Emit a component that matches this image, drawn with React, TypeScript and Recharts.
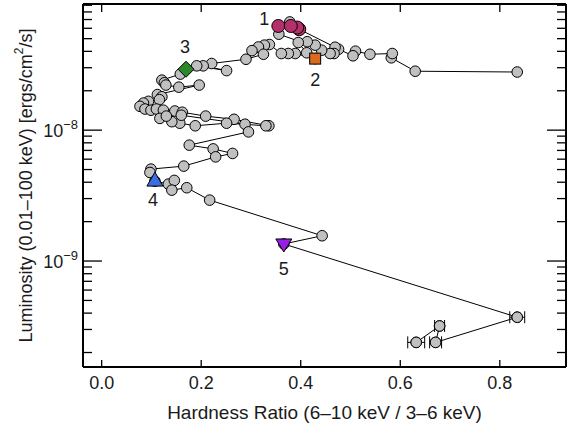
import { ErrorBar, Scatter, ScatterChart, XAxis, YAxis } from "recharts";

const FONT = "'Liberation Sans', Arial, sans-serif";
const INK = "#1a1a1a";

// hardness-intensity track, in time order
const trackHardness = [
  0.835, 0.63, 0.582, 0.584, 0.539, 0.51, 0.505, 0.476, 0.469, 0.397,
  0.393, 0.378, 0.38, 0.355, 0.356, 0.467, 0.459, 0.442, 0.429, 0.413,
  0.395, 0.412, 0.429, 0.389, 0.375, 0.361, 0.337, 0.327, 0.315, 0.302,
  0.325, 0.29, 0.221, 0.204, 0.251, 0.191, 0.1695, 0.158, 0.121, 0.126,
  0.129, 0.155, 0.196, 0.112, 0.121, 0.116, 0.094, 0.084, 0.077, 0.087,
  0.099, 0.11, 0.124, 0.147, 0.162, 0.209, 0.266, 0.336, 0.33, 0.251,
  0.188, 0.157, 0.141, 0.117, 0.13, 0.16, 0.288, 0.295, 0.176, 0.224,
  0.263, 0.229, 0.165, 0.099, 0.097, 0.107, 0.134, 0.146, 0.141, 0.171,
  0.217, 0.443, 0.366, 0.835, 0.671, 0.679, 0.632,
];
const trackLuminosity = [
  2.78e-8, 2.82e-8, 3.57e-8, 3.85e-8, 3.8e-8, 4.01e-8, 3.7e-8, 4.15e-8, 4.3e-8, 5.9e-8,
  6.08e-8, 6.71e-8, 6.25e-8, 6.25e-8, 5.41e-8, 3.85e-8, 3.85e-8, 4.08e-8, 4.46e-8, 4.74e-8,
  4.67e-8, 3.9e-8, 3.52e-8, 3.85e-8, 3.85e-8, 3.85e-8, 4.51e-8, 4.46e-8, 4.32e-8, 4.05e-8,
  3.8e-8, 3.48e-8, 3.23e-8, 3.1e-8, 2.85e-8, 3.1e-8, 2.92e-8, 2.68e-8, 2.41e-8, 2.3e-8,
  2.21e-8, 2.13e-8, 2.21e-8, 1.87e-8, 1.8e-8, 1.71e-8, 1.66e-8, 1.61e-8, 1.52e-8, 1.45e-8,
  1.42e-8, 1.45e-8, 1.42e-8, 1.4e-8, 1.37e-8, 1.28e-8, 1.21e-8, 1.08e-8, 1.08e-8, 1.13e-8,
  1.08e-8, 1.13e-8, 1.16e-8, 1.23e-8, 1.28e-8, 1.3e-8, 1.11e-8, 0.97e-8, 7.68e-9, 7.19e-9,
  6.64e-9, 6.25e-9, 5.31e-9, 5.04e-9, 4.75e-9, 4.08e-9, 3.87e-9, 4.13e-9, 3.48e-9, 3.63e-9,
  2.92e-9, 1.56e-9, 1.35e-9, 3.72e-10, 2.39e-10, 3.19e-10, 2.39e-10,
];

// faint tail with hardness errors
const tailHardness = [0.835, 0.671, 0.679, 0.632];
const tailLuminosity = [3.72e-10, 2.39e-10, 3.19e-10, 2.39e-10];
const tailHardnessErr = [0.015, 0.012, 0.01, 0.017];

// phase 1: peak (several observations)
const peakHardness = [0.397, 0.393, 0.355, 0.38];
const peakLuminosity = [5.9e-8, 6.08e-8, 6.25e-8, 6.25e-8];

// phases 2-5
const phaseTags = ["2", "3", "4", "5"];
const phaseHardness = [0.429, 0.1695, 0.107, 0.366];
const phaseLuminosity = [3.52e-8, 2.92e-8, 4.08e-9, 1.35e-9];

const xTicks = [0, 0.2, 0.4, 0.6, 0.8];
const yTicks = [
  2e-10, 3e-10, 4e-10, 5e-10, 6e-10, 7e-10, 8e-10, 9e-10,
  1e-9, 2e-9, 3e-9, 4e-9, 5e-9, 6e-9, 7e-9, 8e-9, 9e-9,
  1e-8, 2e-8, 3e-8, 4e-8, 5e-8, 6e-8, 7e-8, 8e-8, 9e-8,
];

const X_DOMAIN: [number, number] = [-0.0375, 0.933];
const Y_DOMAIN: [number, number] = [1.55e-10, 9.2e-8];

const track = trackHardness.map((x, i) => ({ x, y: trackLuminosity[i] }));
const tail = tailHardness.map((x, i) => ({ x, y: tailLuminosity[i], err: tailHardnessErr[i] }));
const peak = peakHardness.map((x, i) => ({ x, y: peakLuminosity[i], tag: i === 2 ? "1" : "" }));
const phases = phaseTags.map((tag, i) => ({ tag, x: phaseHardness[i], y: phaseLuminosity[i] }));

const isDecade = (v: number) => Math.abs(Math.log10(v) - Math.round(Math.log10(v))) < 1e-6;

function BottomTick({ x, y, payload }: any) {
  return (
    <g>
      <line x1={x} x2={x} y1={y} y2={y - 7} stroke="#000" strokeWidth={1.3} />
      <text x={x} y={y + 22} textAnchor="middle" fontSize={18} fill={INK}>
        {Number(payload.value).toFixed(1)}
      </text>
    </g>
  );
}

function TopTick({ x, y }: any) {
  return <line x1={x} x2={x} y1={y} y2={y + 8} stroke="#000" strokeWidth={1.3} />;
}

function LeftTick({ x, y, payload }: any) {
  const major = isDecade(payload.value);
  const exp = Math.round(Math.log10(payload.value));
  return (
    <g>
      <line x1={x} x2={x + (major ? 19 : 9)} y1={y} y2={y} stroke="#000" strokeWidth={1.3} />
      {major && (
        <text x={x - 5} y={y + 7} textAnchor="end" fontSize={18} fill={INK}>
          10
          <tspan dy={-8} fontSize={13}>
            {"\u2212" + Math.abs(exp)}
          </tspan>
        </text>
      )}
    </g>
  );
}

function RightTick({ x, y, payload }: any) {
  const major = isDecade(payload.value);
  return <line x1={x} x2={x - (major ? 19 : 9)} y1={y} y2={y} stroke="#000" strokeWidth={1.3} />;
}

function GrayDot({ cx, cy }: any) {
  return <circle cx={cx} cy={cy} r={5.3} fill="#c0c0c0" stroke="#000" strokeWidth={1} />;
}

function PeakDot({ cx, cy, payload }: any) {
  return (
    <g>
      <circle cx={cx} cy={cy} r={6.5} fill="#b5306a" stroke="#000" strokeWidth={1} />
      {payload.tag && (
        <text x={cx - 14} y={cy - 1} textAnchor="middle" fontSize={18} fill={INK}>
          {payload.tag}
        </text>
      )}
    </g>
  );
}

function PhaseMarker({ cx, cy, payload }: any) {
  let mark = null;
  let lx = cx;
  let ly = cy;
  if (payload.tag === "2") {
    mark = <rect x={cx - 5.5} y={cy - 5.5} width={11} height={11} fill="#dc6a1c" stroke="#000" strokeWidth={1} />;
    ly = cy + 27;
  } else if (payload.tag === "3") {
    mark = (
      <polygon
        points={`${cx},${cy - 8} ${cx + 8},${cy} ${cx},${cy + 8} ${cx - 8},${cy}`}
        fill="#2a8a2a"
        stroke="#000"
        strokeWidth={1}
      />
    );
    lx = cx - 1;
    ly = cy - 16;
  } else if (payload.tag === "4") {
    mark = (
      <polygon
        points={`${cx},${cy - 9} ${cx + 8},${cy + 5} ${cx - 8},${cy + 5}`}
        fill="#3d6de0"
        stroke="#000"
        strokeWidth={1}
      />
    );
    lx = cx - 2;
    ly = cy + 25;
  } else {
    mark = (
      <polygon
        points={`${cx - 8},${cy - 5} ${cx + 8},${cy - 5} ${cx},${cy + 8}`}
        fill="#9a1ee6"
        stroke="#000"
        strokeWidth={1}
      />
    );
    ly = cy + 31;
  }
  return (
    <g>
      {mark}
      <text x={lx} y={ly} textAnchor="middle" fontSize={18} fill={INK}>
        {payload.tag}
      </text>
    </g>
  );
}

const frame = { stroke: "#000", strokeWidth: 2 };

export default function App() {
  return (
    <div style={{ position: "absolute", left: 0, top: 0, fontFamily: FONT, background: "#fff" }}>
      <ScatterChart width={577} height={430} margin={{ top: 0, right: 0, bottom: 0, left: 0 }}>
        <XAxis
          xAxisId="b"
          type="number"
          dataKey="x"
          orientation="bottom"
          domain={X_DOMAIN}
          ticks={xTicks}
          interval={0}
          allowDataOverflow
          height={63}
          tickSize={0}
          tickMargin={0}
          tickLine={false}
          axisLine={frame}
          tick={(p: any) => <BottomTick {...p} />}
          label={{
            content: (p: any) => {
              const vb = p.viewBox;
              return (
                <text x={vb.x + vb.width / 2} y={vb.y + 52} textAnchor="middle" fontSize={19} fill={INK}>
                  Hardness Ratio (6–10 keV / 3–6 keV)
                </text>
              );
            },
          }}
        />
        <XAxis
          xAxisId="t"
          type="number"
          dataKey="x"
          orientation="top"
          domain={X_DOMAIN}
          ticks={xTicks}
          interval={0}
          allowDataOverflow
          height={4}
          tickSize={0}
          tickMargin={0}
          tickLine={false}
          axisLine={frame}
          tick={(p: any) => <TopTick {...p} />}
        />
        <YAxis
          yAxisId="l"
          type="number"
          dataKey="y"
          scale="log"
          orientation="left"
          domain={Y_DOMAIN}
          ticks={yTicks}
          interval={0}
          allowDataOverflow
          width={83}
          tickSize={0}
          tickMargin={0}
          tickLine={false}
          axisLine={frame}
          tick={(p: any) => <LeftTick {...p} />}
          label={{
            content: (p: any) => {
              const vb = p.viewBox;
              const cx = 26;
              const cy = vb.y + vb.height / 2;
              return (
                <text
                  x={cx}
                  y={cy}
                  transform={`rotate(-90 ${cx} ${cy})`}
                  textAnchor="middle"
                  dominantBaseline="central"
                  fontSize={18}
                  fill={INK}
                >
                  Luminosity (0.01–100 keV) [ergs/cm
                  <tspan dy={-7} fontSize={12}>
                    2
                  </tspan>
                  <tspan dy={7}>/s]</tspan>
                </text>
              );
            },
          }}
        />
        <YAxis
          yAxisId="r"
          type="number"
          dataKey="y"
          scale="log"
          orientation="right"
          domain={Y_DOMAIN}
          ticks={yTicks}
          interval={0}
          allowDataOverflow
          width={11}
          tickSize={0}
          tickMargin={0}
          tickLine={false}
          axisLine={frame}
          tick={(p: any) => <RightTick {...p} />}
        />
        <Scatter
          xAxisId="b"
          yAxisId="l"
          data={track}
          line={{ stroke: "#000", strokeWidth: 1 }}
          lineType="joint"
          shape={GrayDot}
          isAnimationActive={false}
        />
        <Scatter xAxisId="b" yAxisId="l" data={tail} shape={GrayDot} isAnimationActive={false}>
          <ErrorBar dataKey="err" direction="x" width={6} stroke="#000" strokeWidth={1} />
        </Scatter>
        <Scatter xAxisId="b" yAxisId="l" data={peak} shape={PeakDot} isAnimationActive={false} />
        <Scatter xAxisId="b" yAxisId="l" data={phases} shape={PhaseMarker} isAnimationActive={false} />
      </ScatterChart>
    </div>
  );
}
